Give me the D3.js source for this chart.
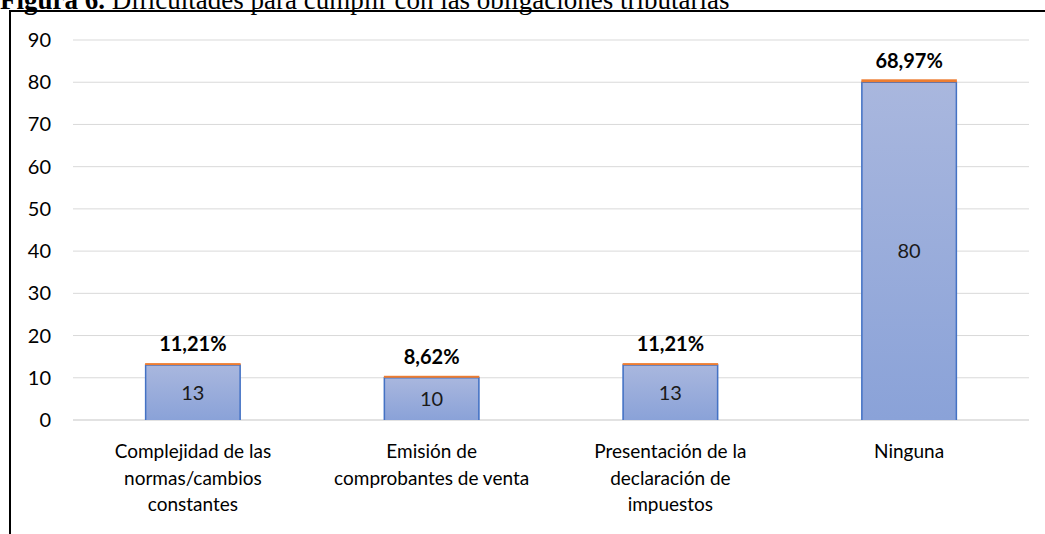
<!DOCTYPE html>
<html><head><meta charset="utf-8">
<script src="https://cdn.jsdelivr.net/npm/d3@7"></script>
<style>body{margin:0;background:#fff;} svg{display:block;}</style>
</head><body>
<script>
const categories = [
  ["Complejidad de las","normas/cambios","constantes"],
  ["Emisión de","comprobantes de venta"],
  ["Presentación de la","declaración de","impuestos"],
  ["Ninguna"]
];
const values = [13, 10, 13, 80];
const percents = [11.21, 8.62, 11.21, 68.97];
const percentLabels = ["11,21%", "8,62%", "11,21%", "68,97%"];
const yTicks = [0,10,20,30,40,50,60,70,80,90];

const W = 1045, H = 534;
const svg = d3.select("body").append("svg").attr("width", W).attr("height", H);
const SANS = "Lato, 'Liberation Sans', sans-serif";

// title (partially cut off at the top, as in the reference)
const title = svg.append("text").attr("x", 0).attr("y", 9)
  .attr("font-family", "'Liberation Serif','Times New Roman',serif").attr("font-size", 27);
title.append("tspan").attr("font-weight", "bold").text("Figura 6.");
title.append("tspan").text(" Dificultades para cumplir con las obligaciones tributarias");

// frame
svg.append("rect").attr("x", 10).attr("y", 11).attr("width", 1100).attr("height", 600)
  .attr("fill", "none").attr("stroke", "#000").attr("stroke-width", 2);

const x = d3.scaleBand().domain(d3.range(categories.length)).range([73.5, 1028.5]).paddingInner(0.6).paddingOuter(0.3);
const y = d3.scaleLinear().domain([0, 90]).range([420, 40]);

const defs = svg.append("defs");
const grad = defs.append("linearGradient").attr("id", "g").attr("x1", 0).attr("y1", 0).attr("x2", 0).attr("y2", 1);
grad.append("stop").attr("offset", "0%").attr("stop-color", "#a9b7de");
grad.append("stop").attr("offset", "100%").attr("stop-color", "#8aa2d8");

// gridlines
svg.append("g").selectAll("line").data(yTicks).join("line")
  .attr("x1", 73).attr("x2", 1029).attr("y1", d => y(d)).attr("y2", d => y(d))
  .attr("stroke", "#d9d9d9").attr("stroke-width", d => d === 0 ? 1.5 : 1);

// y labels
svg.append("g").selectAll("text").data(yTicks).join("text")
  .attr("x", 51).attr("y", d => y(d)).attr("dy", "0.35em").attr("text-anchor", "end")
  .attr("font-family", SANS).attr("font-size", 20).attr("fill", "#000")
  .text(d => d);

// bars
const bw = x.bandwidth();
const bars = svg.append("g");
bars.selectAll("rect.v").data(values).join("rect").attr("class", "v")
  .attr("x", (d, i) => x(i)).attr("width", bw)
  .attr("y", d => y(d)).attr("height", d => y(0) - y(d))
  .attr("fill", "url(#g)");
bars.selectAll("path.o").data(values).join("path").attr("class", "o")
  .attr("d", (d, i) => `M${x(i)+0.5},${y(0)} V${y(d)} H${x(i)+bw-0.5} V${y(0)}`)
  .attr("fill", "none").attr("stroke", "#4472c4").attr("stroke-width", 1.5);
// stacked percentage segment (orange)
bars.selectAll("rect.p").data(percents).join("rect").attr("class", "p")
  .attr("x", (d, i) => x(i)).attr("width", bw)
  .attr("y", (d, i) => Math.min(y(values[i] + d / 100), y(values[i]) - 2))
  .attr("height", (d, i) => Math.max(y(values[i]) - y(values[i] + d / 100), 2))
  .attr("fill", "#ed7d31");

// value labels inside
svg.append("g").selectAll("text").data(values).join("text")
  .attr("x", (d, i) => x(i) + bw / 2).attr("y", d => (y(d) + y(0)) / 2).attr("dy", "0.35em")
  .attr("text-anchor", "middle").attr("font-family", SANS)
  .attr("font-size", 20).attr("fill", "#1a1a1a").text(d => d);

// percent labels
svg.append("g").selectAll("text").data(percentLabels).join("text")
  .attr("x", (d, i) => x(i) + bw / 2).attr("y", (d, i) => y(values[i]) - 14)
  .attr("text-anchor", "middle").attr("font-family", SANS)
  .attr("font-weight", "bold").attr("font-size", 20).attr("fill", "#000").text(d => d);

// category labels
const cg = svg.append("g");
categories.forEach((lines, i) => {
  const t = cg.append("text").attr("text-anchor", "middle")
    .attr("font-family", SANS).attr("font-size", 19).attr("fill", "#000");
  lines.forEach((ln, k) => {
    t.append("tspan").attr("x", x(i) + bw / 2).attr("y", 458 + k * 26.5).text(ln);
  });
});
</script>
</body></html>
